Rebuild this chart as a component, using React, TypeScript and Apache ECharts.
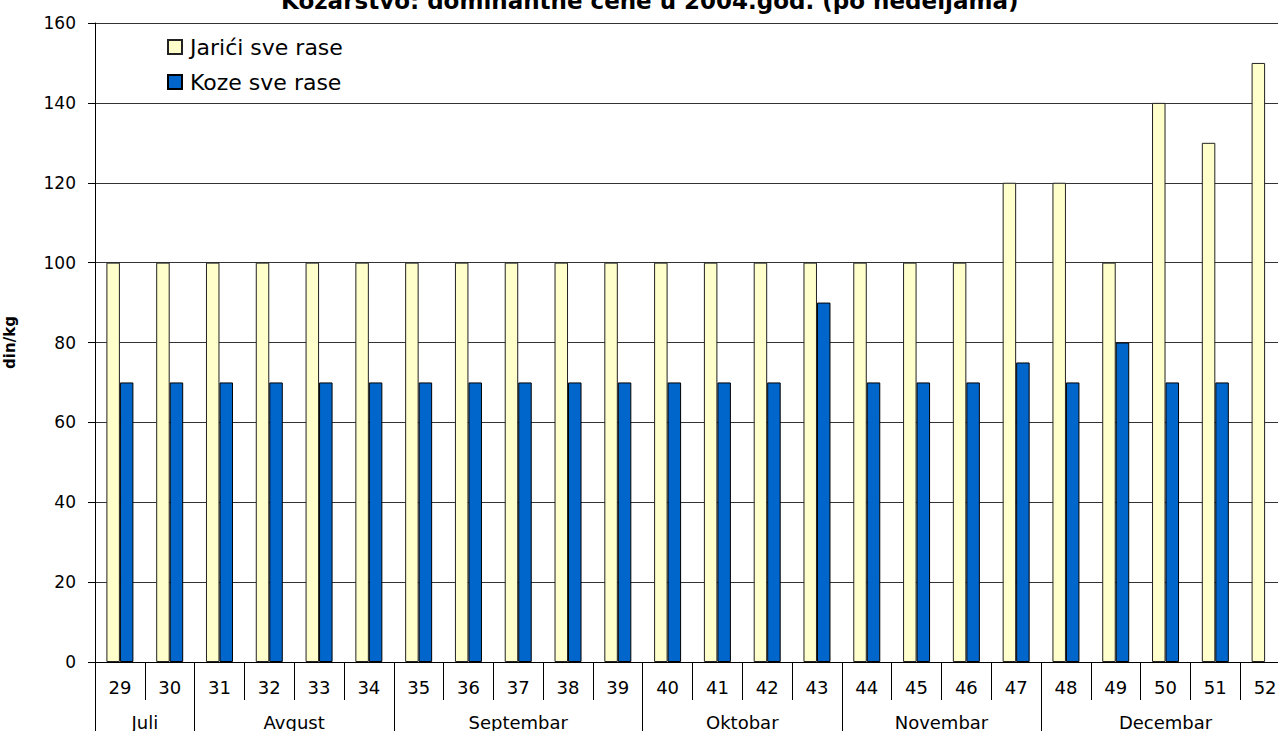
import React, { useEffect, useRef } from "react";
import * as echarts from "echarts";

const weeks = ["29","30","31","32","33","34","35","36","37","38","39","40","41","42","43","44","45","46","47","48","49","50","51","52"];
const jarici = [100,100,100,100,100,100,100,100,100,100,100,100,100,100,100,100,100,100,120,120,100,140,130,150];
const koze: (number | null)[] = [70,70,70,70,70,70,70,70,70,70,70,70,70,70,90,70,70,70,75,70,80,70,70,null];
const months = ["Juli","Avgust","Septembar","Oktobar","Novembar","Decembar"];
const monthWeekCounts = [2,4,5,4,4,5];
const yTicks = [0,20,40,60,80,100,120,140,160];

export default function App() {
  const ref = useRef<HTMLDivElement>(null);
  useEffect(() => {
    if (!ref.current) return;
    const chart = echarts.init(ref.current, null, { renderer: "svg" });
    const boundaries: number[] = [0];
    const centers: number[] = [];
    const centerName: Record<string, string> = {};
    monthWeekCounts.forEach((c, i) => {
      const start = boundaries[boundaries.length - 1];
      const end = start + c;
      boundaries.push(end);
      const mid = (start + end) / 2;
      centers.push(mid);
      centerName[String(mid)] = months[i];
    });
    const font = "DejaVu Sans";
    chart.setOption({
      animation: false,
      backgroundColor: "#ffffff",
      title: {
        text: "Kozarstvo: dominantne cene u 2004.god. (po nedeljama)",
        left: 276,
        top: -16,
        textStyle: { fontFamily: font, fontWeight: "bold", fontSize: 23, color: "#000" },
      },
      legend: {
        orient: "vertical",
        left: 162,
        top: 31,
        icon: "rect",
        itemWidth: 14,
        itemHeight: 14,
        itemGap: 13,
        textStyle: { fontFamily: font, fontSize: 22, color: "#000", padding: [0, 0, 0, 3] },
        data: ["Jarići sve rase", "Koze sve rase"],
      },
      grid: { left: 95, right: -12, top: 23, bottom: 69, containLabel: false, outerBoundsMode: "none" },
      xAxis: [
        {
          type: "category",
          data: weeks,
          position: "bottom",
          axisLine: { show: true, lineStyle: { color: "#000", width: 1 } },
          axisTick: { show: true, interval: 0, length: 38, alignWithLabel: false, lineStyle: { color: "#000" } },
          axisLabel: { interval: 0, margin: 16, fontFamily: font, fontSize: 18, color: "#000" },
          splitLine: { show: false },
        },
        {
          type: "value",
          min: 0,
          max: weeks.length,
          position: "bottom",
          offset: 38,
          axisLine: { show: false },
          axisTick: { show: true, customValues: boundaries, length: 40, lineStyle: { color: "#000" } },
          axisLabel: {
            show: true,
            customValues: centers,
            margin: 13,
            fontFamily: font,
            fontSize: 18,
            color: "#000",
            formatter: (v: number) => centerName[String(v)] || "",
          },
          splitLine: { show: false },
        },
      ],
      yAxis: {
        type: "value",
        min: yTicks[0],
        max: yTicks[yTicks.length - 1],
        interval: 20,
        name: "din/kg",
        nameLocation: "middle",
        nameRotate: 90,
        nameGap: 78,
        nameTextStyle: { fontFamily: font, fontWeight: "bold", fontSize: 15, color: "#000" },
        axisLine: { show: true, lineStyle: { color: "#000", width: 1 } },
        axisTick: { show: true, length: 7, lineStyle: { color: "#000" } },
        axisLabel: { margin: 19, fontFamily: font, fontSize: 17, color: "#000" },
        splitLine: { show: true, lineStyle: { color: "#333", width: 1 } },
      },
      series: [
        {
          name: "Jarići sve rase",
          type: "bar",
          data: jarici,
          barWidth: 13.5,
          barGap: "0%",
          itemStyle: { color: "#FFFFCC", borderColor: "#222", borderWidth: 1 },
        },
        {
          name: "Koze sve rase",
          type: "bar",
          data: koze,
          barWidth: 13.5,
          barGap: "0%",
          itemStyle: { color: "#0066CC", borderColor: "#000", borderWidth: 1 },
        },
      ],
    });
    return () => chart.dispose();
  }, []);
  return (
    <div
      ref={ref}
      style={{ position: "absolute", left: 0, top: 0, width: 1278, height: 731, overflow: "hidden" }}
    />
  );
}
